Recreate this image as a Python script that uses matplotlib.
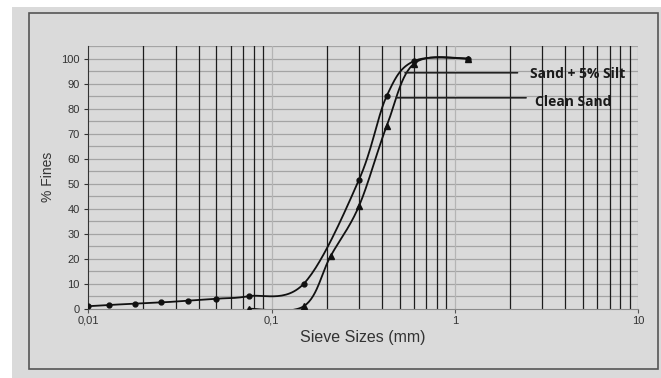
import numpy as np
import matplotlib.pyplot as plt
from matplotlib.patches import Rectangle
from matplotlib.ticker import FixedLocator, FixedFormatter, NullFormatter

# Sieve sizes (mm) and % fines
silt_size = [0.01, 0.013, 0.018, 0.025, 0.035, 0.05, 0.075, 0.15, 0.3, 0.425, 0.6, 1.18]
silt_fines = [1.0, 1.5, 2.0, 2.5, 3.2, 4.0, 5.0, 10.0, 51.5, 85.0, 99.0, 100.0]

clean_size = [0.075, 0.15, 0.21, 0.3, 0.425, 0.6, 1.18]
clean_fines = [0.0, 1.0, 21.0, 41.0, 73.0, 98.0, 100.0]

x_ticks = [0.01, 0.1, 1, 10]
x_ticklabels = ["0,01", "0,1", "1", "10"]
y_ticks = list(range(0, 101, 10))

# annotation labels: (text, point on curve, line end, text position)
labels = [
    ("Sand + 5% Silt", (0.535, 94.3), (2.2, 94.3), (2.56, 93.8)),
    ("Clean Sand", (0.48, 84.3), (2.45, 84.3), (2.73, 82.8)),
]

BG = "#dadada"


def smooth(ax, xs, ys, n=30):
    # Excel style smoothed line (cardinal spline in screen space)
    pts = ax.transData.transform(np.column_stack([xs, ys]))
    p = np.vstack([pts[0], pts, pts[-1]])
    out = []
    t = np.linspace(0, 1, n)[:, None]
    for i in range(1, len(p) - 2):
        p0, p1, p2, p3 = p[i - 1], p[i], p[i + 1], p[i + 2]
        c1 = p1 + (p2 - p0) / 6.0
        c2 = p2 - (p3 - p1) / 6.0
        seg = ((1 - t) ** 3) * p1 + 3 * ((1 - t) ** 2) * t * c1 + 3 * (1 - t) * t ** 2 * c2 + t ** 3 * p2
        out.append(seg)
    out = np.vstack(out)
    return ax.transData.inverted().transform(out).T


fig = plt.figure(figsize=(6.61, 3.78), dpi=100)
fig.patch.set_facecolor("white")

# gray panel with dark frame
fig.patches.append(Rectangle((12 / 661, 0), 1, 1 - 7 / 378, transform=fig.transFigure,
                             facecolor=BG, edgecolor="none", zorder=-2))
fig.patches.append(Rectangle((29 / 661, 1 - 369 / 378), (658 - 29) / 661, (369 - 13) / 378,
                             transform=fig.transFigure, facecolor="none",
                             edgecolor="#555555", lw=1.2, zorder=-1))

ax = fig.add_axes([88.3 / 661, 1 - 308.7 / 378, (638 - 88.3) / 661, (308.7 - 46) / 378])
ax.set_facecolor(BG)
ax.set_xscale("log")
ax.set_xlim(0.01, 10)
ax.set_ylim(0, 105)

# grid
for v in np.arange(5, 106, 5):
    ax.axhline(v, color="#a4a4a4", lw=0.9, zorder=1)
for dec in [0.01, 0.1, 1]:
    for k in range(2, 10):
        ax.axvline(dec * k, color="#1c1c1c", lw=0.9, zorder=2)
    if dec > 0.01:
        ax.axvline(dec, color="#b4b4b4", lw=0.9, zorder=1)
ax.axvline(10, color="#b4b4b4", lw=0.9, zorder=1)

# curves
sx, sy = smooth(ax, silt_size, silt_fines)
ax.plot(sx, sy, color="#111111", lw=1.3, zorder=4)
ax.plot(silt_size, silt_fines, "o", color="#111111", ms=3.5, zorder=5)

cx, cy = smooth(ax, clean_size, clean_fines)
ax.plot(cx, cy, color="#111111", lw=1.3, zorder=4)
ax.plot(clean_size, clean_fines, "^", color="#111111", ms=4, zorder=5)

for text, xy, end, tpos in labels:
    ax.annotate("", xy=xy, xytext=end,
                arrowprops=dict(arrowstyle="-", color="#222222", lw=1.2,
                                shrinkA=0, shrinkB=0), zorder=6)
    ax.text(tpos[0], tpos[1], text, fontsize=10, fontweight="bold",
            family="Open Sans", color="#1a1a1a", va="center", ha="left", zorder=6)

# axes
for s in ["top", "right"]:
    ax.spines[s].set_visible(False)
ax.spines["left"].set_color("#333333")
ax.spines["bottom"].set_color("#8a8a8a")
ax.spines["left"].set_zorder(3)
ax.spines["bottom"].set_zorder(3)

ax.xaxis.set_major_locator(FixedLocator(x_ticks))
ax.xaxis.set_major_formatter(FixedFormatter(x_ticklabels))
ax.xaxis.set_minor_formatter(NullFormatter())
ax.tick_params(axis="x", which="minor", length=0)
ax.tick_params(axis="x", which="major", length=3, color="#555555", pad=2)
ax.set_yticks(y_ticks)
ax.tick_params(axis="y", length=3, color="#333333", pad=3)

for lab in ax.get_xticklabels() + ax.get_yticklabels():
    lab.set_family("Liberation Sans")
    lab.set_fontsize(8)
    lab.set_color("#333333")

ax.set_xlabel("Sieve Sizes (mm)", family="Liberation Sans", fontsize=11.5,
              color="#333333", labelpad=3)
ax.set_ylabel("% Fines", family="Liberation Sans", fontsize=10,
              color="#333333", labelpad=5)

fig.savefig("out.png", dpi=100, facecolor=fig.get_facecolor())
